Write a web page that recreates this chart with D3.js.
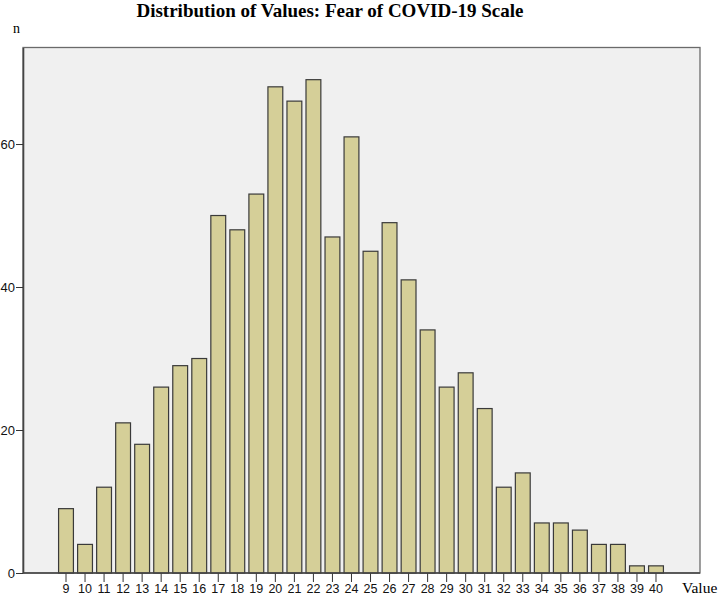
<!DOCTYPE html>
<html><head><meta charset="utf-8">
<script src="https://cdn.jsdelivr.net/npm/d3@7"></script>
<style>body{margin:0;background:#fff}svg{display:block}</style>
</head><body>
<script>
const categories = [9,10,11,12,13,14,15,16,17,18,19,20,21,22,23,24,25,26,27,28,29,30,31,32,33,34,35,36,37,38,39,40];
const counts = [9,4,12,21,18,26,29,30,50,48,53,68,66,69,47,61,45,49,41,34,26,28,23,12,14,7,7,6,4,4,1,1];
const yTicks = [0,20,40,60];
const title = "Distribution of Values: Fear of COVID-19 Scale";

const W = 720, H = 596;
const plot = {left: 23, right: 700, top: 47.5, bottom: 573};
const svg = d3.select("body").append("svg").attr("width", W).attr("height", H);

const step = 19.03;
const x = d3.scaleBand().domain(categories).range([66 - step/2, 656 + step/2]).paddingInner(0.22).paddingOuter(0.11);
const y = d3.scaleLinear().domain([0, 73.5]).range([plot.bottom, plot.top]);

svg.append("rect").attr("x", plot.left).attr("y", plot.top)
  .attr("width", plot.right - plot.left).attr("height", plot.bottom - plot.top)
  .attr("fill", "#f0f0f0").attr("stroke", "#6a6a6a").attr("stroke-width", 1.3);

svg.append("g").selectAll("rect").data(counts).join("rect")
  .attr("x", (d,i) => x(categories[i]))
  .attr("y", d => y(d))
  .attr("width", x.bandwidth())
  .attr("height", d => y(0) - y(d))
  .attr("fill", "#d5cf98").attr("stroke", "#3a3a3a").attr("stroke-width", 1.2);

const yAxis = svg.append("g").attr("transform", `translate(${plot.left},0)`)
  .call(d3.axisLeft(y).tickValues(yTicks).tickSize(7).tickPadding(1).tickSizeOuter(0).tickFormat(d3.format("d")));
yAxis.select(".domain").attr("stroke", "#444").attr("stroke-width", 1.6);
yAxis.selectAll("line").attr("stroke", "#333");
yAxis.selectAll("text").attr("font-family", "Liberation Sans, Arial, sans-serif").attr("font-size", 13).attr("fill", "#111");

const xAxis = svg.append("g").attr("transform", `translate(0,${plot.bottom})`)
  .call(d3.axisBottom(x).tickSize(9).tickPadding(0).tickSizeOuter(0));
xAxis.select(".domain").remove();
xAxis.selectAll("line").attr("stroke", "#333");
xAxis.selectAll("text").attr("dy", null).attr("y", 20)
  .attr("font-family", "Liberation Sans, Arial, sans-serif").attr("font-size", 12.5).attr("fill", "#111");
svg.append("line").attr("x1", plot.left).attr("x2", plot.right).attr("y1", plot.bottom).attr("y2", plot.bottom)
  .attr("stroke", "#444").attr("stroke-width", 1.6);

svg.append("text").attr("x", 330).attr("y", 17).attr("text-anchor", "middle")
  .attr("font-family", "Liberation Serif, Times New Roman, serif").attr("font-weight", "bold").attr("font-size", 19)
  .text(title);
svg.append("text").attr("x", 13).attr("y", 33)
  .attr("font-family", "Liberation Serif, Times New Roman, serif").attr("font-size", 14).text("n");
svg.append("text").attr("x", 682).attr("y", 592.5)
  .attr("font-family", "Liberation Serif, Times New Roman, serif").attr("font-size", 15.5).text("Value");
</script>
</body></html>
